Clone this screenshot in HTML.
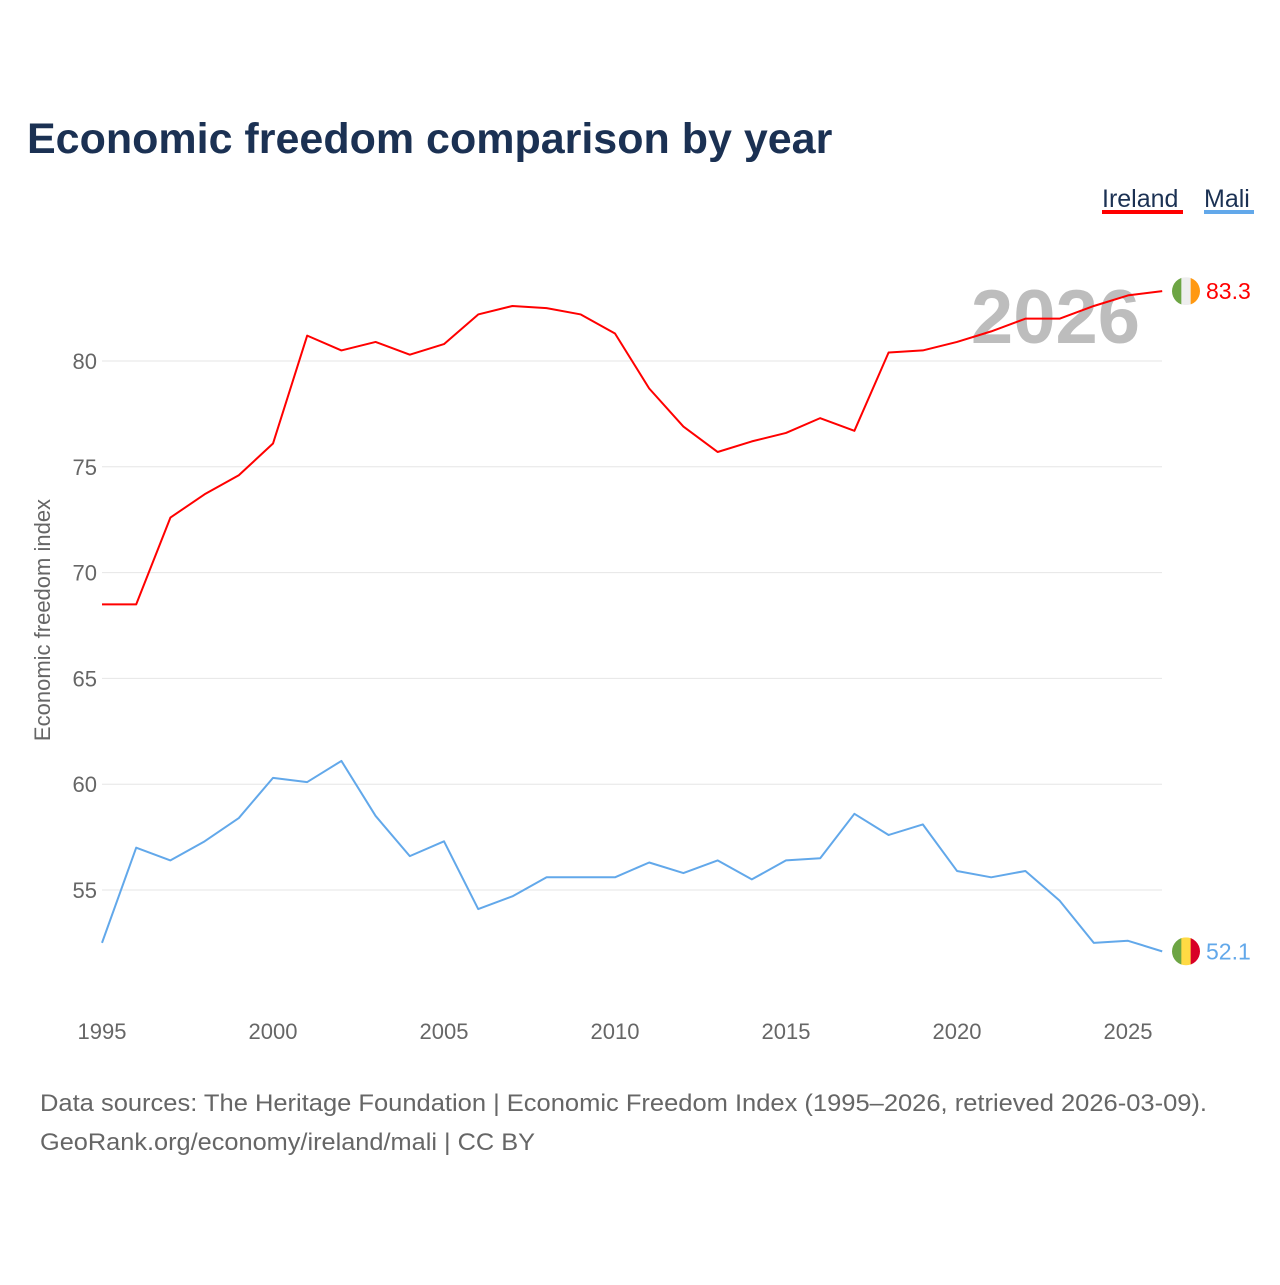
<!DOCTYPE html>
<html><head><meta charset="utf-8"><style>
body{margin:0;width:1280px;height:1280px;background:#fff;font-family:"Liberation Sans",sans-serif;overflow:hidden}
</style></head><body>
<svg id="chart" width="1280" height="1280" xmlns="http://www.w3.org/2000/svg" font-family="Liberation Sans, sans-serif">
<text x="27" y="153" font-size="43" font-weight="bold" fill="#1b3153">Economic freedom comparison by year</text>
<g><text x="1102" y="207" font-size="25" fill="#1b3153">Ireland</text><rect x="1102" y="210" width="81" height="4" fill="#ff0000"/></g>
<g><text x="1204" y="207" font-size="25" fill="#1b3153">Mali</text><rect x="1204" y="210" width="50" height="4" fill="#62a8ea"/></g>
<text x="1140" y="343" text-anchor="end" font-size="76" font-weight="bold" fill="#bdbdbd">2026</text>
<text transform="translate(50,620) rotate(-90)" text-anchor="middle" font-size="22" fill="#666">Economic freedom index</text>
<g id="grid"></g><g id="xt"></g><g id="lines"></g>
<text x="40" y="1111" font-size="24" fill="#666" textLength="1167" lengthAdjust="spacingAndGlyphs">Data sources: The Heritage Foundation | Economic Freedom Index (1995–2026, retrieved 2026-03-09).</text>
<text x="40" y="1150" font-size="24" fill="#666" textLength="495" lengthAdjust="spacingAndGlyphs">GeoRank.org/economy/ireland/mali | CC BY</text>
</svg>
<script>
const years=[1995,1996,1997,1998,1999,2000,2001,2002,2003,2004,2005,2006,2007,2008,2009,2010,2011,2012,2013,2014,2015,2016,2017,2018,2019,2020,2021,2022,2023,2024,2025,2026];
const ireland=[68.5,68.5,72.6,73.7,74.6,76.1,81.2,80.5,80.9,80.3,80.8,82.2,82.6,82.5,82.2,81.3,78.7,76.9,75.7,76.2,76.6,77.3,76.7,80.4,80.5,80.9,81.4,82.0,82.0,82.6,83.1,83.3];
const mali=[52.5,57.0,56.4,57.3,58.4,60.3,60.1,61.1,58.5,56.6,57.3,54.1,54.7,55.6,55.6,55.6,56.3,55.8,56.4,55.5,56.4,56.5,58.6,57.6,58.1,55.9,55.6,55.9,54.5,52.5,52.6,52.1];
const yTicks=[55,60,65,70,75,80];
const xTicks=[1995,2000,2005,2010,2015,2020,2025];
const NS="http://www.w3.org/2000/svg";
const X=y=>102+(y-1995)*34.2;
const Y=v=>361+(80-v)*21.16;
function mk(t,a,p){const e=document.createElementNS(NS,t);for(const k in a)e.setAttribute(k,a[k]);p.appendChild(e);return e;}
const grid=document.getElementById('grid');
yTicks.forEach(v=>{
 const l=mk('line',{x1:102,x2:1162,y1:Y(v),y2:Y(v),stroke:'#e6e6e6','stroke-width':1},grid);
 
 
 const t=mk('text',{x:97,y:Y(v)+8,'text-anchor':'end','font-size':22,fill:'#666'},grid);
 t.textContent=v;
 
 
});
const xt=document.getElementById('xt');
xTicks.forEach(v=>{
 const t=mk('text',{x:X(v),y:1039,'text-anchor':'middle','font-size':22,fill:'#666'},xt);
 t.textContent=v;
 
 
});
const lines=document.getElementById('lines');
function series(vals,color,name,flag){
 const p=mk('polyline',{points:vals.map((v,i)=>X(years[i])+','+Y(v)).join(' '),fill:'none',stroke:color,'stroke-width':2,'stroke-linejoin':'round'},lines);
 
 
 const last=vals[vals.length-1],cy=Y(last),cx=1186;
 const g=mk('g',{},lines);
 
 
 const id='c'+name;
 const cp=mk('clipPath',{id:id},g);mk('circle',{cx:cx,cy:cy,r:14},cp);
 flag.forEach((c,i)=>mk('rect',{x:cx-14+i*28/3,y:cy-14,width:28/3+0.5,height:28,fill:c,'clip-path':'url(#'+id+')'},g));
 const t=mk('text',{x:1206,y:cy+8,'font-size':23,fill:color},lines);
 t.textContent=last.toFixed(1);
 
 
}
series(ireland,'#ff0000','ireland',['#6da544','#eeeeee','#ff9811']);
series(mali,'#62a8ea','mali',['#6da544','#ffda44','#d80027']);
</script>
</body></html>
